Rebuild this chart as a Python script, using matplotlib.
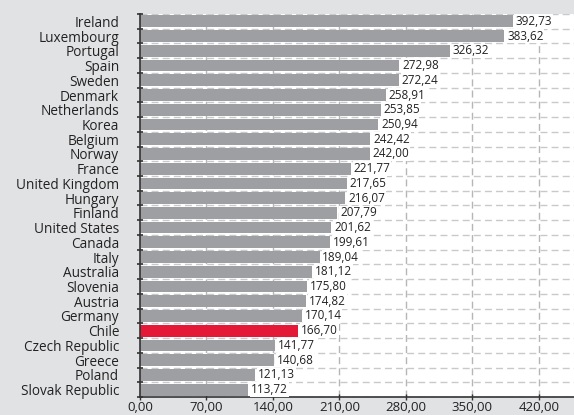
import numpy as np
import matplotlib.pyplot as plt
from matplotlib.ticker import FixedLocator

countries = ["Ireland", "Luxembourg", "Portugal", "Spain", "Sweden", "Denmark",
             "Netherlands", "Korea", "Belgium", "Norway", "France", "United Kingdom",
             "Hungary", "Finland", "United States", "Canada", "Italy", "Australia",
             "Slovenia", "Austria", "Germany", "Chile", "Czech Republic", "Greece",
             "Poland", "Slovak Republic"]
values = [392.73, 383.62, 326.32, 272.98, 272.24, 258.91, 253.85, 250.94, 242.42,
          242.00, 221.77, 217.65, 216.07, 207.79, 201.62, 199.61, 189.04, 181.12,
          175.80, 174.82, 170.14, 166.70, 141.77, 140.68, 121.13, 113.72]
xticks = [0, 70, 140, 210, 280, 350, 420]

bg = "#e1e2e4"
grey = "#9d9fa2"
red = "#e31937"

plt.rcParams['font.family'] = ['Open Sans', 'DejaVu Sans']

fig = plt.figure(figsize=(5.74, 4.15), dpi=100, facecolor=bg)
ax = fig.add_axes([140/574, 18/415, 434/574, 383/415])
ax.set_facecolor("white")

y = np.arange(len(countries))
colors = [red if c == "Chile" else grey for c in countries]
ax.barh(y, values, height=0.8, color=colors, zorder=2)

for yi, v in zip(y, values):
    ax.text(v + 3, yi, f"{v:.2f}".replace(".", ","), va="center", ha="left",
            fontsize=8.5, color="#222222", zorder=3,
            bbox=dict(facecolor="white", edgecolor="none", pad=0.6))

ax.set_xlim(0, 457)
ax.set_ylim(len(countries) - 0.5, -0.5)

ax.set_yticks(y)
ax.set_yticklabels(countries, fontsize=9.8, color="#222222")
ax.yaxis.set_minor_locator(FixedLocator(np.arange(-0.5, len(countries), 1)))
ax.tick_params(axis="y", which="major", length=0, pad=15)
ax.tick_params(axis="y", which="minor", length=5, width=1.2, direction="inout", color="#333333")

ax.set_xticks(xticks)
ax.set_xticklabels([f"{t:.2f}".replace(".", ",") for t in xticks], fontsize=9.5, color="#222222")
ax.tick_params(axis="x", length=4, width=1, direction="inout", color="#333333", pad=1)

ax.grid(axis="x", which="major", color="#b4b6b8", linestyle=(0, (5, 3)), linewidth=1, zorder=1)
ax.grid(axis="y", which="minor", color="#c8c9cb", linestyle=(0, (5, 3)), linewidth=1, zorder=1)
ax.grid(axis="y", which="major", visible=False)

for s in ["top", "right"]:
    ax.spines[s].set_visible(False)
ax.spines["left"].set_color("#333333")
ax.spines["bottom"].set_color("#333333")
ax.spines["left"].set_linewidth(1.2)
ax.spines["bottom"].set_linewidth(1.2)

fig.savefig("out.png", dpi=100, facecolor=bg)
